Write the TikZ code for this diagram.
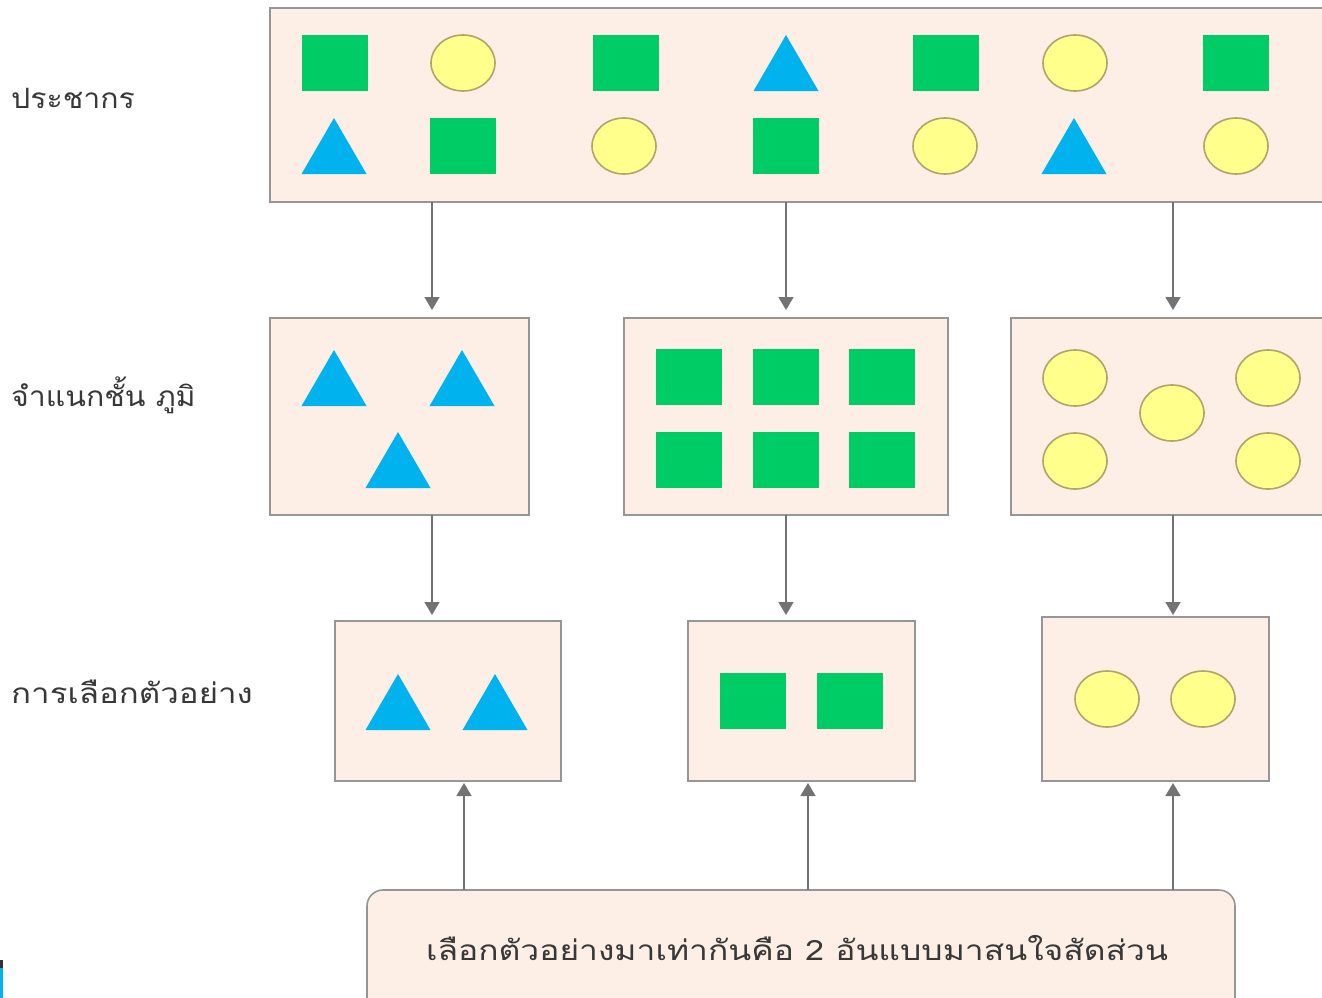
\documentclass[tikz,border=0pt]{standalone}
\usepackage{graphicx}
\usepackage{fontspec}
\newfontfamily\thai[Script=Thai]{Loma}
\usetikzlibrary{arrows.meta,shapes.geometric}
\definecolor{boxfill}{RGB}{253,239,229}
\definecolor{boxline}{RGB}{150,150,150}
\definecolor{sqgreen}{RGB}{0,204,102}
\definecolor{triblue}{RGB}{0,178,238}
\definecolor{elyel}{RGB}{255,255,140}
\definecolor{elline}{RGB}{175,165,105}
\definecolor{arrgray}{RGB}{115,115,115}
\newcommand{\shSq}[2]{\fill[sqgreen] (#1-33,#2-28) rectangle (#1+33,#2+28);}
\newcommand{\shTri}[2]{\fill[triblue] (#1-32.5,#2+28) -- (#1+32.5,#2+28) -- (#1,#2-28) -- cycle;}
\newcommand{\shEl}[2]{\filldraw[fill=elyel,draw=elline,line width=1.6pt] (#1,#2) ellipse [x radius=32, y radius=28];}
\begin{document}
\begin{tikzpicture}[x=1pt,y=-1pt,
  box/.style={draw=boxline,fill=boxfill,line width=1.6pt,inner sep=0pt,outer sep=0pt,anchor=north west},
  arr/.style={draw=arrgray,line width=1.6pt,-{Triangle[width=15pt,length=13pt]}},
  lab/.style={anchor=west,inner sep=0pt,font=\thai\fontsize{28}{32}\selectfont,text=black!78}]
\useasboundingbox (0,0) rectangle (1322,998);
\clip (0,0) rectangle (1322,998);
% boxes
\node[box,minimum width=1080pt,minimum height=194pt] (top) at (270,8) {};
\node[box,minimum width=259pt,minimum height=197pt] (mL) at (270,318) {};
\node[box,minimum width=324pt,minimum height=197pt] (mC) at (624,318) {};
\node[box,minimum width=330pt,minimum height=197pt] (mR) at (1011,318) {};
\node[box,minimum width=226pt,minimum height=160pt] (bL) at (335,621) {};
\node[box,minimum width=227pt,minimum height=160pt] (bC) at (688,621) {};
\node[box,minimum width=227pt,minimum height=164pt] (bR) at (1042,617) {};
\node[box,rounded corners=16pt,minimum width=868pt,minimum height=130pt] (note) at (367,890) {};
\node[anchor=center,inner sep=0pt,font=\thai\fontsize{28}{32}\selectfont,text=black!78] (notetext) at (797,948) {\scalebox{1.2}[1]{เลือกตัวอย่างมาเท่ากันคือ 2 อันแบบมาสนใจสัดส่วน}};
% labels
\node[lab] (l1) at (11,98) {\scalebox{1.08}[1]{ประชากร}};
\node[lab] (l2) at (11,395) {\scalebox{1.08}[1]{จำแนกชั้น ภูมิ}};
\node[lab] (l3) at (11,692) {\scalebox{1.18}[1]{การเลือกตัวอย่าง}};
% arrows
\coordinate (c1) at (432,0);
\coordinate (c2) at (786,0);
\coordinate (c3) at (1173,0);
\coordinate (u1) at (464,0);
\coordinate (u2) at (808,0);
\draw[arr,shorten >=8pt] (c1 |- top.south) -- (c1 |- mL.north);
\draw[arr,shorten >=8pt] (c2 |- top.south) -- (c2 |- mC.north);
\draw[arr,shorten >=8pt] (c3 |- top.south) -- (c3 |- mR.north);
\draw[arr,shorten >=6pt] (c1 |- mL.south) -- (c1 |- bL.north);
\draw[arr,shorten >=6pt] (c2 |- mC.south) -- (c2 |- bC.north);
\draw[arr,shorten >=2pt] (c3 |- mR.south) -- (c3 |- bR.north);
\draw[arr,shorten >=2pt] (u1 |- note.north) -- (u1 |- bL.south);
\draw[arr,shorten >=2pt] (u2 |- note.north) -- (u2 |- bC.south);
\draw[arr,shorten >=2pt] (c3 |- note.north) -- (c3 |- bR.south);
% top box shapes
\shSq{335}{63} \shEl{463}{63} \shSq{626}{63} \shTri{786}{63} \shSq{946}{63} \shEl{1075}{63} \shSq{1236}{63}
\shTri{334}{146} \shSq{463}{146} \shEl{624}{146} \shSq{786}{146} \shEl{945}{146} \shTri{1074}{146} \shEl{1236}{146}
% middle boxes
\shTri{334}{378} \shTri{462}{378} \shTri{398}{460}
\shSq{689}{377} \shSq{786}{377} \shSq{882}{377}
\shSq{689}{460} \shSq{786}{460} \shSq{882}{460}
\shEl{1075}{378} \shEl{1268}{378} \shEl{1172}{413} \shEl{1075}{461} \shEl{1268}{461}
% bottom boxes
\shTri{398}{702} \shTri{495}{702}
\shSq{753}{701} \shSq{850}{701}
\shEl{1107}{699} \shEl{1203}{699}
% edge sliver
\fill[triblue] (0,968) rectangle (3,998);
\fill[black!80] (0,960) rectangle (3,968);
\end{tikzpicture}
\end{document}
